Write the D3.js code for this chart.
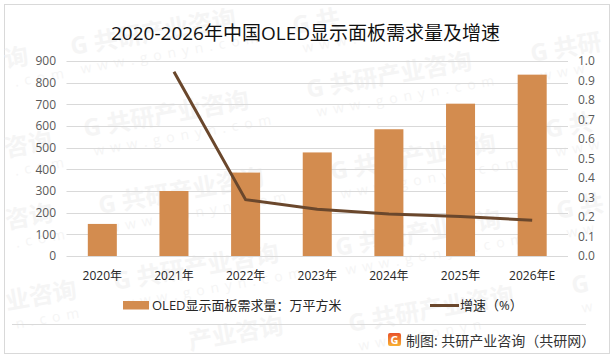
<!DOCTYPE html>
<html>
<head>
<meta charset="utf-8">
<title>OLED</title>
<script src="https://d3js.org/d3.v7.min.js"></script>
<style>
html, body { margin: 0; padding: 0; background: #fff; }
svg { display: block; }
text { font-family: "Open Sans", "Noto Sans CJK SC", sans-serif; }
</style>
</head>
<body>
<script>
const categories = ["2020年", "2021年", "2022年", "2023年", "2024年", "2025年", "2026年E"];
const demand = [148, 300, 385, 478, 585, 703, 837];
const growth = [null, 0.945, 0.289, 0.24, 0.215, 0.203, 0.183];
const leftTicks = [0, 100, 200, 300, 400, 500, 600, 700, 800, 900];
const rightTicks = [0, 0.1, 0.2, 0.3, 0.4, 0.5, 0.6, 0.7, 0.8, 0.9, 1.0];
// watermark stamps, cut to what fits inside the frame
const stamps = [
    [72, 55, "G 共研产业咨询", "www.gonyn.com"],
    [85, 137, "G 共研产业咨询", "www.gonyn.com"],
    [100, 214, "G 共研产业咨询", "www.gonyn.com"],
    [115, 290, "G 共研产业咨询", "www.gonyn.com"],
    [308, 98, "G 共研产业咨询", "www.gonyn.com"],
    [332, 180, "G 共研产业咨询", "www.gonyn.com"],
    [337, 256, "G 共研产业咨询", "www.gonyn.com"],
    [350, 332, "G 共研产业咨询", "www.gonyn"],
    [294, 34, "G 共", "www."],
    [532, 62, "G 共研", "www"],
    [547, 138, "G 共", "www"],
    [558, 219, "G 共", "ww"],
    [573, 294, "G", "w"],
    [6, 68, "询", ".com"],
    [6, 157, "咨询", ".com"],
    [7, 229, "咨询", ".com"],
    [7, 310, "业咨询", "n.com"],
    [190, 350, "产业咨询", ""]
];

const w = 615, h = 359;
const svg = d3.select("body").append("svg").attr("width", w).attr("height", h);

svg.append("rect").attr("x", 4.5).attr("y", 4.5).attr("width", 605).attr("height", 349)
    .attr("fill", "#fff").attr("stroke", "#d9d9d9");

// watermark
const wm = svg.append("g").selectAll("g").data(stamps).enter().append("g")
    .attr("transform", d => "translate(" + d[0] + "," + d[1] + ") rotate(-10)");
wm.append("text").text(d => d[2])
    .attr("font-size", 24).attr("font-weight", 700).attr("fill", "#f5f5f5");
wm.append("text").text(d => d[3]).attr("x", 6).attr("y", 20)
    .attr("font-size", 14).attr("letter-spacing", 6).attr("fill", "#f5f5f5");

const x = d3.scaleBand().domain(categories).range([66.5, 568]).paddingInner(0.595).paddingOuter(0.2975);
const y = d3.scaleLinear().domain([0, 900]).range([256, 61]);
const y2 = d3.scaleLinear().domain([0, 1]).range([256, 61]);

svg.append("g").selectAll("line").data(leftTicks).enter().append("line")
    .attr("x1", 66.5).attr("x2", 568)
    .attr("y1", d => Math.round(y(d)) + 0.5).attr("y2", d => Math.round(y(d)) + 0.5)
    .attr("stroke", "#d9d9d9");

svg.selectAll(".bar").data(demand).enter().append("rect")
    .attr("class", "bar")
    .attr("x", (d, i) => x(categories[i]))
    .attr("y", d => y(d))
    .attr("width", x.bandwidth())
    .attr("height", d => y(0) - y(d))
    .attr("fill", "#d38c4f");

const line = d3.line()
    .defined(d => d !== null)
    .x((d, i) => x(categories[i]) + x.bandwidth() / 2)
    .y(d => y2(d));
svg.append("path").datum(growth).attr("d", line)
    .attr("fill", "none").attr("stroke", "#6a472c").attr("stroke-width", 3);

const leftAxis = d3.axisLeft(y).tickValues(leftTicks).tickSize(0).tickPadding(0);
const gl = svg.append("g").attr("transform", "translate(56,0)").call(leftAxis);
gl.select(".domain").remove();
gl.selectAll("text").attr("font-size", 12).attr("fill", "#595959").attr("font-family", "'Open Sans'");

const rightAxis = d3.axisRight(y2).tickValues(rightTicks).tickFormat(d3.format(".1f")).tickSize(0).tickPadding(0);
const gr = svg.append("g").attr("transform", "translate(578,0)").call(rightAxis);
gr.select(".domain").remove();
gr.selectAll("text").attr("font-size", 12).attr("fill", "#595959").attr("font-family", "'Open Sans'");

const xAxis = d3.axisBottom(x).tickSize(0).tickPadding(0);
const gx = svg.append("g").attr("transform", "translate(0,271)").call(xAxis);
gx.select(".domain").remove();
gx.selectAll("text").attr("font-size", 12).attr("fill", "#262626");

svg.append("text").text("2020-2026年中国OLED显示面板需求量及增速")
    .attr("x", 305.5).attr("y", 40).attr("text-anchor", "middle")
    .attr("font-size", 19).attr("fill", "#111");

// legend
svg.append("rect").attr("x", 123).attr("y", 301).attr("width", 26).attr("height", 8.5).attr("fill", "#d38c4f");
svg.append("text").text("OLED显示面板需求量：万平方米").attr("x", 152).attr("y", 310)
    .attr("font-size", 13).attr("fill", "#262626");
svg.append("line").attr("x1", 430).attr("x2", 459).attr("y1", 305.5).attr("y2", 305.5)
    .attr("stroke", "#6a472c").attr("stroke-width", 3);
svg.append("text").text("增速（%）").attr("x", 460).attr("y", 310)
    .attr("font-size", 13).attr("fill", "#262626");

svg.append("line").attr("x1", 12).attr("x2", 586).attr("y1", 324.5).attr("y2", 324.5).attr("stroke", "#d9d9d9");

// footer logo and source
const grad = svg.append("defs").append("linearGradient").attr("id", "logo")
    .attr("x1", 0).attr("x2", 0).attr("y1", 0).attr("y2", 1);
grad.append("stop").attr("offset", 0).attr("stop-color", "#e8502a");
grad.append("stop").attr("offset", 1).attr("stop-color", "#f9b233");
svg.append("rect").attr("x", 388).attr("y", 333).attr("width", 13).attr("height", 13).attr("rx", 2).attr("fill", "url(#logo)");
svg.append("text").text("G").attr("x", 394.5).attr("y", 344).attr("text-anchor", "middle")
    .attr("font-size", 11).attr("font-weight", 700).attr("fill", "#fff");
svg.append("text").text("制图: 共研产业咨询（共研网）").attr("x", 406).attr("y", 346)
    .attr("font-size", 14).attr("fill", "#333");
</script>
</body>
</html>
